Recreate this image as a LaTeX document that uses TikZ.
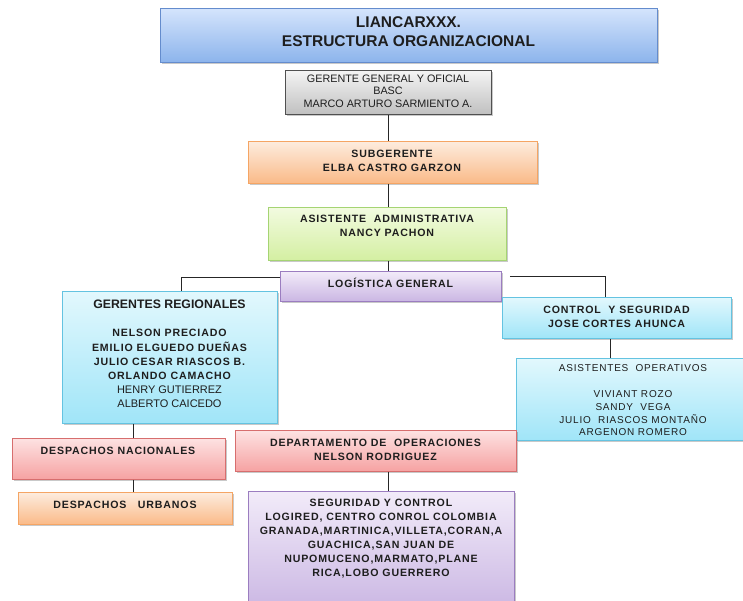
\documentclass[tikz,border=0pt]{standalone}
\usepackage{fontspec}
\setmainfont{Liberation Sans}
\newfontfamily\spcfam[LetterSpace=8]{Liberation Sans}
\newfontfamily\plainfam{Liberation Sans}
\usetikzlibrary{shadows}
\definecolor{txt}{RGB}{30,30,30}
\definecolor{bluT}{RGB}{212,228,252}\definecolor{bluB}{RGB}{140,180,236}\definecolor{bluD}{RGB}{100,140,205}
\definecolor{gryT}{RGB}{244,244,244}\definecolor{gryB}{RGB}{192,192,192}\definecolor{gryD}{RGB}{80,80,80}
\definecolor{orgT}{RGB}{253,236,222}\definecolor{orgB}{RGB}{250,186,136}\definecolor{orgD}{RGB}{245,165,100}
\definecolor{grnT}{RGB}{242,251,224}\definecolor{grnB}{RGB}{212,239,162}\definecolor{grnD}{RGB}{165,212,115}
\definecolor{purT}{RGB}{242,235,249}\definecolor{purB}{RGB}{202,182,227}\definecolor{purD}{RGB}{155,125,192}
\definecolor{cyaT}{RGB}{226,248,253}\definecolor{cyaB}{RGB}{160,229,248}\definecolor{cyaD}{RGB}{100,195,225}
\definecolor{redT}{RGB}{253,226,226}\definecolor{redB}{RGB}{246,162,162}\definecolor{redD}{RGB}{215,110,110}
\begin{document}
\begin{tikzpicture}[x=1pt,y=-1pt,
  bx/.style={draw, rectangle, inner sep=0pt, anchor=north west, line width=0.8pt,
    drop shadow={shadow xshift=1.2pt, shadow yshift=-1.6pt, opacity=0.3, fill=black!70}},
  blu/.style={bx, top color=bluT, bottom color=bluB, draw=bluD},
  gry/.style={bx, top color=gryT, bottom color=gryB, draw=gryD},
  org/.style={bx, top color=orgT, bottom color=orgB, draw=orgD},
  grn/.style={bx, top color=grnT, bottom color=grnB, draw=grnD},
  pur/.style={bx, top color=purT, bottom color=purB, draw=purD},
  cya/.style={bx, top color=cyaT, bottom color=cyaB, draw=cyaD},
  rdd/.style={bx, top color=redT, bottom color=redB, draw=redD},
  tx/.style={anchor=center, align=center, inner sep=0pt, text=txt,
    font=\spcfam\bfseries\fontsize{10.6}{14}\selectfont},
  ln/.style={draw=black!85, line width=0.7pt}]
\useasboundingbox (0,0) rectangle (743,600);

% boxes
\node[blu, minimum width=497pt, minimum height=54pt] (title) at (160,8) {};
\node[gry, minimum width=206pt, minimum height=44pt] (gg) at (285,70) {};
\node[org, minimum width=289pt, minimum height=42pt] (sub) at (248,141) {};
\node[grn, minimum width=238pt, minimum height=53pt] (asist) at (268,207) {};
\node[pur, minimum width=221pt, minimum height=30pt] (log) at (280,271) {};
\node[cya, minimum width=215pt, minimum height=132pt] (greg) at (62,291) {};
\node[cya, minimum width=229pt, minimum height=41pt] (ctrl) at (502,297) {};
\node[cya, minimum width=234pt, minimum height=82pt] (asop) at (516,358) {};
\node[rdd, minimum width=213pt, minimum height=41pt] (dn) at (12,438) {};
\node[org, minimum width=214pt, minimum height=32pt] (du) at (18,492) {};
\node[rdd, minimum width=281pt, minimum height=41pt] (dop) at (235,430) {};
\node[pur, minimum width=266pt, minimum height=120pt] (seg) at (248,491) {};

% texts
\node[tx, font=\bfseries\fontsize{15.5}{19}\selectfont] (titleT) at (408.5,32) {LIANCARXXX.\\ESTRUCTURA ORGANIZACIONAL};
\node[tx, font=\plainfam\fontsize{10.8}{12.5}\selectfont] (ggT) at (388,91) {GERENTE GENERAL Y OFICIAL\\BASC\\MARCO ARTURO SARMIENTO A.};
\node[tx] (subT) at (392,160.5) {SUBGERENTE\\ELBA CASTRO GARZON};
\node[tx] (asistT) at (387,225.5) {ASISTENTE\ \ ADMINISTRATIVA\\NANCY PACHON};
\node[tx] (logT) at (390.5,282.5) {LOGÍSTICA GENERAL};
\node[tx, font=\spcfam\bfseries\fontsize{10.6}{14.2}\selectfont] (gregT) at (169.5,354) {{\plainfam\bfseries\fontsize{12.3}{15}\selectfont GERENTES REGIONALES}\\[14pt]
  NELSON PRECIADO\\EMILIO ELGUEDO DUEÑAS\\JULIO CESAR RIASCOS B.\\ORLANDO CAMACHO\\
  {\plainfam\mdseries\fontsize{11}{14.2}\selectfont HENRY GUTIERREZ}\\{\plainfam\mdseries\fontsize{11}{14.2}\selectfont ALBERTO CAICEDO}};
\node[tx] (ctrlT) at (616.5,316.5) {CONTROL\ \ Y SEGURIDAD\\JOSE CORTES AHUNCA};
\node[tx, font=\spcfam\fontsize{10}{12.8}\selectfont] (asopT) at (633,400.5) {ASISTENTES\ \ OPERATIVOS\\[12.8pt]VIVIANT ROZO\\SANDY\ \ VEGA\\JULIO\ \ RIASCOS MONTAÑO\\ARGENON ROMERO};
\node[tx] (dnT) at (118,450.5) {DESPACHOS NACIONALES};
\node[tx] (duT) at (125,504.5) {DESPACHOS\ \ \ URBANOS};
\node[tx] (dopT) at (375.5,449.5) {DEPARTAMENTO DE\ \ OPERACIONES\\NELSON RODRIGUEZ};
\node[tx] (segT) at (381,538.5) {SEGURIDAD Y CONTROL\\LOGIRED, CENTRO CONROL COLOMBIA\\GRANADA,MARTINICA,VILLETA,CORAN,A\\GUACHICA,SAN JUAN DE\\NUPOMUCENO,MARMATO,PLANE\\RICA,LOBO GUERRERO};

% connectors
\coordinate (sp) at (388,0);
\draw[ln] (gg.south -| sp) -- (sub.north -| sp);
\draw[ln] (sub.south -| sp) -- (asist.north -| sp);
\draw[ln] (asist.south -| sp) -- (log.north -| sp);
\draw[ln] ([yshift=-6pt]log.north west) -| ([xshift=11.5pt]greg.north);
\draw[ln] ([xshift=8pt,yshift=-5pt]log.north east) -| ([xshift=-11.5pt]ctrl.north);
\draw[ln] ([xshift=-6.5pt]ctrl.south) -- ([xshift=-6.5pt]ctrl.south |- asop.north);
\coordinate (lx) at (133,0);
\draw[ln] (greg.south -| lx) -- (dn.north -| lx);
\draw[ln] (dn.south -| lx) -- (du.north -| lx);
\draw[ln] (dop.south -| sp) -- (seg.north -| sp);
\end{tikzpicture}
\end{document}
